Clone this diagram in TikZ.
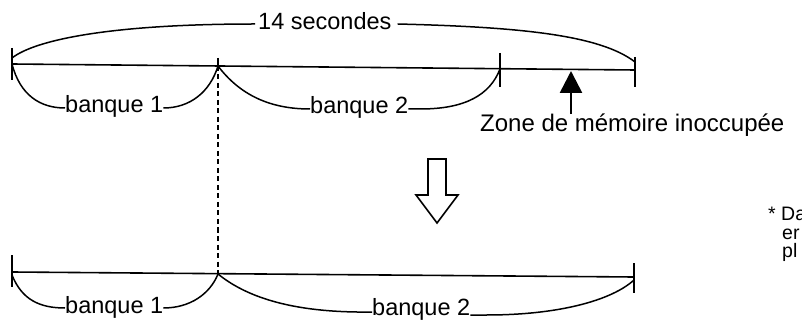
\documentclass[tikz,border=0pt]{standalone}
\usepackage{fontspec}
\setmainfont{Liberation Sans}
\usetikzlibrary{arrows.meta}
\begin{document}
\begin{tikzpicture}[x=1pt,y=-1pt,
  lbl/.style={inner sep=0pt, anchor=base west, font=\fontsize{23.5}{28}\selectfont},
  note/.style={inner sep=0pt, anchor=base west, font=\fontsize{19.5}{18}\selectfont},
  axis/.style={line width=1.6pt},
  tickmark/.style={line width=1.9pt},
  bow/.style={line width=1.5pt},
  dashline/.style={line width=1.2pt, dash pattern=on 5pt off 3.5pt},
  bigarrow/.style={line width=2.6pt, -{Triangle[width=22pt,length=22pt]}},
  hollow/.style={line width=1.6pt, line join=miter}]
\useasboundingbox (0,0) rectangle (802,320);
\clip (0,0) rectangle (802,320);

% ---------- top timeline ----------
\coordinate (tL) at (12,64);
\coordinate (tM) at (218,66);
\coordinate (tT) at (500,69);
\coordinate (tR) at (635,70);
\draw[axis] (tL) -- (tR);
\draw[tickmark] (tL) ++(0,-16) -- ++(0,32);
\draw[tickmark] (tR) ++(0,-13) -- ++(0,30);
\draw[axis] (tT) ++(0,-16) -- ++(0,34);
\draw[axis] (tM) ++(0,-8) -- ++(0,8);

\node[lbl] (secs) at (258,30) {14 secondes};
\draw[bow] ([yshift=6pt]tL) .. controls (35,40) and (110,24) .. ([shift={(-3pt,6pt)}]secs.base west);
\draw[bow] ([shift={(6pt,6pt)}]secs.base east) .. controls (520,27) and (600,35) .. ([yshift=8pt]tR);

\node[lbl] (b1t) at (65,113) {banque 1};
\draw[bow] (tL) .. controls (20,95) and (40,108) .. ([yshift=5pt]b1t.base west);
\draw[bow] ([yshift=5pt]b1t.base east) .. controls (190,108) and (210,92) .. (tM);

\node[lbl] (b2t) at (310,114) {banque 2};
\draw[bow] (tM) .. controls (240,95) and (270,109) .. ([yshift=5pt]b2t.base west);
\draw[bow] ([yshift=5pt]b2t.base east) -- ++(12,0) .. controls (465,109) and (490,95) .. (tT);

% unoccupied zone
\node[lbl, font=\fontsize{24}{28}\selectfont] (zone) at (480,132) {Zone de mémoire inoccupée};
\coordinate (ztip) at (571,71);
\draw[bigarrow] (ztip |- zone.north) -- (ztip);

% dashed alignment
\coordinate (bL) at (12,272);
\coordinate (bM) at (218,274);
\coordinate (bR) at (634,277);
\draw[dashline] (tM) -- (bM);

% hollow arrow
\coordinate (harrow) at (437,159);
\draw[hollow] (harrow) ++(-9,0) -- ++(18,0) -- ++(0,36) -- ++(12,0) -- ++(-21,28) -- ++(-21,-28) -- ++(12,0) -- cycle;

% ---------- bottom timeline ----------
\draw[axis] (bL) -- (bR);
\draw[tickmark] (bL) ++(0,-17) -- ++(0,32);
\draw[tickmark] (bR) ++(0,-14) -- ++(0,30);

\node[lbl] (b1b) at (65,313) {banque 1};
\draw[bow] ([yshift=-3pt]bL) .. controls (22,300) and (40,308) .. ([yshift=5pt]b1b.base west);
\draw[bow] ([yshift=5pt]b1b.base east) .. controls (190,308) and (210,294) .. (bM);

\node[lbl] (b2b) at (372,315) {banque 2};
\draw[bow] (bM) .. controls (250,300) and (300,313) .. ([yshift=3pt]b2b.base west);
\draw[bow] ([yshift=0pt]b2b.base east) -- ++(16,0) .. controls (560,315) and (612,300) .. ([yshift=-3pt]bR);

% cut-off note
\node[note] (n1) at (768,221) {* Da};
\node[note] (n2) at (782,239) {er};
\node[note] (n3) at (782,257) {pl};
\end{tikzpicture}
\end{document}
